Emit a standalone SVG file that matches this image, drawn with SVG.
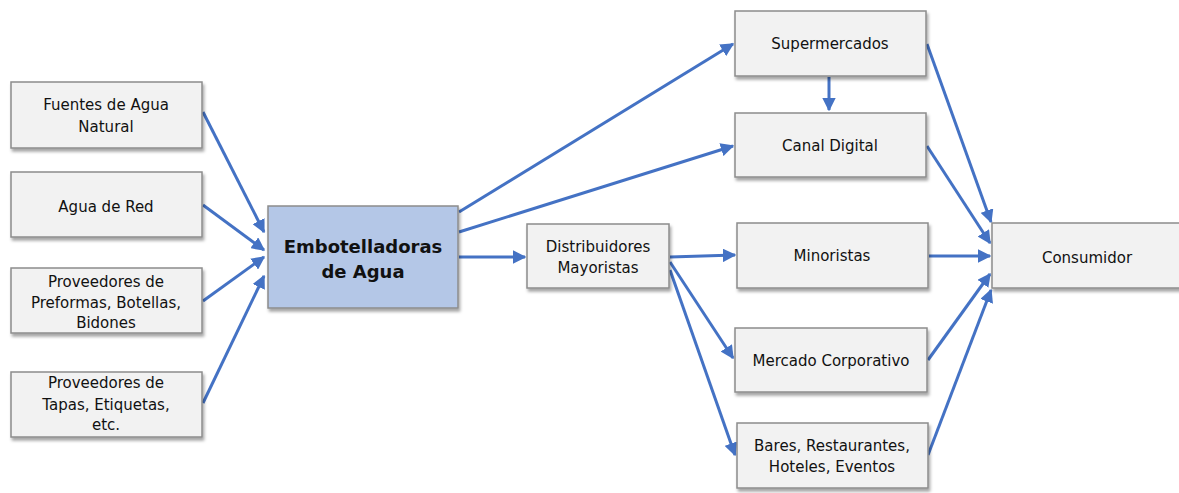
<svg xmlns="http://www.w3.org/2000/svg" width="1179" height="493" viewBox="0 0 1179 493">
<style>
.box{fill:#f2f2f2;stroke:#8c8c8c;stroke-width:1.5;filter:url(#sh)}
.main{fill:#b4c7e7;stroke:#8c8c8c;stroke-width:1.5;filter:url(#sh)}
text{font-family:"DejaVu Sans",Verdana,sans-serif;font-size:15px;fill:#111;text-anchor:middle;dominant-baseline:central}
.big{font-size:18px;font-weight:bold}
.c{fill:none;stroke:#4472c4;stroke-width:3;marker-end:url(#ah)}
</style>
<defs>
<filter id="sh" x="-10%" y="-10%" width="125%" height="135%">
<feDropShadow dx="1.5" dy="3" stdDeviation="1.8" flood-color="#000" flood-opacity="0.35"/>
</filter>
<marker id="ah" viewBox="0 0 10 10" refX="9" refY="5" markerWidth="4.5" markerHeight="4.5" orient="auto" markerUnits="strokeWidth">
<path d="M0,0 L10,5 L0,10 z" fill="#4472c4"/>
</marker>
</defs>
<rect width="1179" height="493" fill="#fff"/>
<g id="connectors">
<line class="c" x1="203" y1="112" x2="264" y2="232"/>
<line class="c" x1="203" y1="205" x2="264" y2="250"/>
<line class="c" x1="203" y1="301" x2="264" y2="257"/>
<line class="c" x1="203" y1="403" x2="264" y2="276"/>
<line class="c" x1="459" y1="212" x2="733" y2="44"/>
<line class="c" x1="459" y1="232" x2="733" y2="146"/>
<line class="c" x1="459" y1="257" x2="525" y2="257"/>
<line class="c" x1="670" y1="257" x2="735" y2="255"/>
<line class="c" x1="670" y1="262" x2="733" y2="358"/>
<line class="c" x1="670" y1="270" x2="735" y2="455"/>
<line class="c" x1="829" y1="77" x2="829" y2="110"/>
<line class="c" x1="927" y1="44" x2="991" y2="222"/>
<line class="c" x1="927" y1="146" x2="990" y2="243"/>
<line class="c" x1="929" y1="256" x2="990" y2="256"/>
<line class="c" x1="928" y1="360" x2="990" y2="274"/>
<line class="c" x1="928" y1="455" x2="991" y2="290"/>
</g>
<g id="fuentes"><rect class="box" x="11" y="82" width="191" height="66"/><text x="106" y="105">Fuentes de Agua</text><text x="106" y="127">Natural</text></g>
<g id="agua-red"><rect class="box" x="11" y="172" width="191" height="65"/><text x="106" y="207">Agua de Red</text></g>
<g id="preformas"><rect class="box" x="11" y="268" width="191" height="65"/><text x="106" y="282">Proveedores de</text><text x="106" y="303">Preformas, Botellas,</text><text x="106" y="323">Bidones</text></g>
<g id="tapas"><rect class="box" x="11" y="372" width="191" height="65"/><text x="106" y="383">Proveedores de</text><text x="106" y="405">Tapas, Etiquetas,</text><text x="106" y="425">etc.</text></g>
<g id="embotelladoras"><rect class="main" x="268" y="206" width="190" height="102"/><text class="big" x="363" y="246">Embotelladoras</text><text class="big" x="363" y="271">de Agua</text></g>
<g id="distribuidores"><rect class="box" x="527" y="224" width="142" height="64"/><text x="598" y="247">Distribuidores</text><text x="598" y="268">Mayoristas</text></g>
<g id="supermercados"><rect class="box" x="735" y="11" width="191" height="65"/><text x="830" y="44">Supermercados</text></g>
<g id="canal-digital"><rect class="box" x="735" y="113" width="191" height="64"/><text x="830" y="146">Canal Digital</text></g>
<g id="minoristas"><rect class="box" x="737" y="223" width="191" height="65"/><text x="832" y="256">Minoristas</text></g>
<g id="mercado-corporativo"><rect class="box" x="735" y="328" width="192" height="64"/><text x="831" y="361">Mercado Corporativo</text></g>
<g id="bares"><rect class="box" x="737" y="423" width="191" height="65"/><text x="832" y="446">Bares, Restaurantes,</text><text x="832" y="467">Hoteles, Eventos</text></g>
<g id="consumidor"><rect class="box" x="992" y="223" width="192" height="65"/><text x="1087" y="258">Consumidor</text></g>
</svg>
